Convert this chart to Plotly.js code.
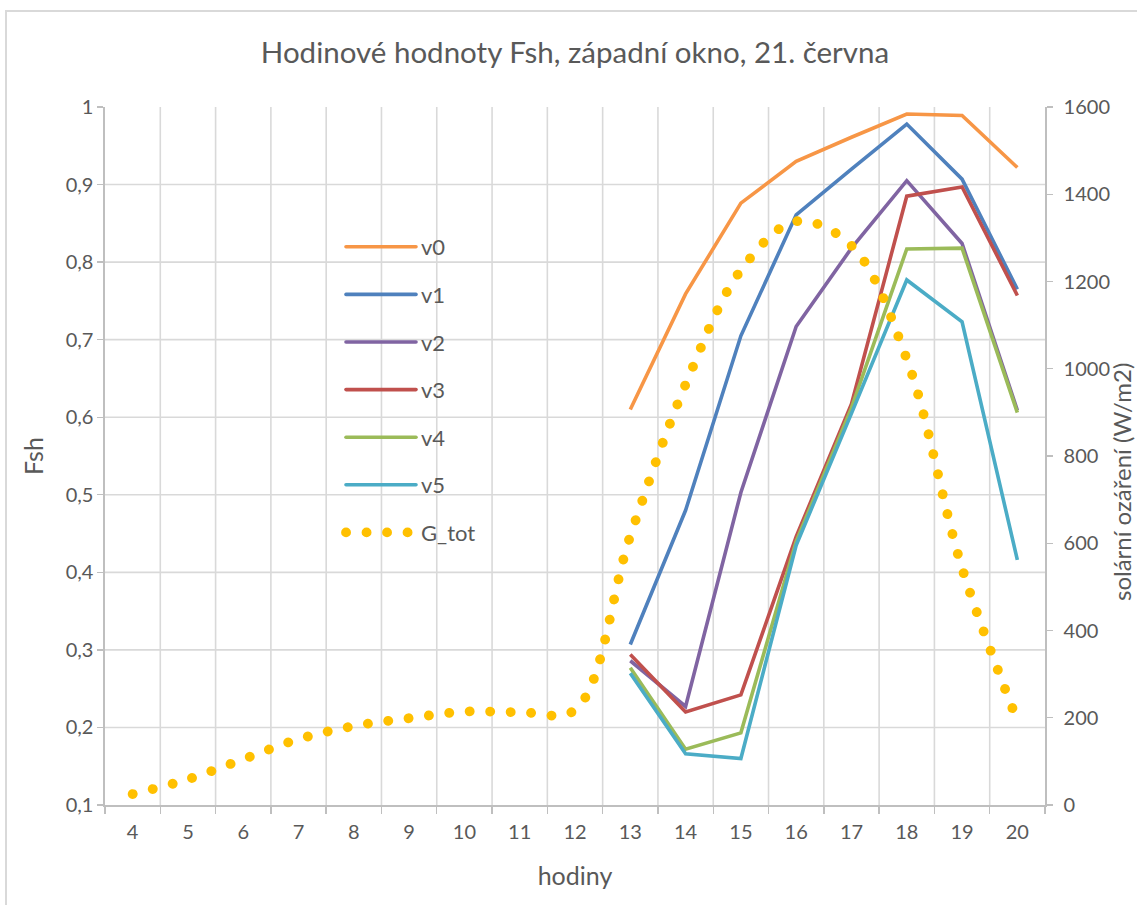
<!DOCTYPE html>
<html>
<head>
<meta charset="utf-8">
<script src="https://cdn.plot.ly/plotly-3.0.1.min.js"></script>
<style>
  html, body { margin: 0; padding: 0; background: #ffffff; }
  #chart { width: 1137px; height: 905px; }
  /* round caps turn the short dashes of the irradiance line into round dots */
  .tracegtot path.js-line, .legend path.js-line { stroke-linecap: round; }
  /* keep all grid lines the same soft weight */
  .js-plotly-plot .plotly .gridlayer .crisp { shape-rendering: auto; }
</style>
</head>
<body>
<div id="chart"></div>
<script>
// hours of the day (category axis)
const hours = [4, 5, 6, 7, 8, 9, 10, 11, 12, 13, 14, 15, 16, 17, 18, 19, 20];
// hours for which the shading factor is evaluated
const fshHours = [13, 14, 15, 16, 17, 18, 19, 20];

// hourly shading factor Fsh for the six variants
const v0 = [0.610, 0.759, 0.876, 0.930, 0.961, 0.991, 0.989, 0.922];
const v1 = [0.307, 0.480, 0.705, 0.861, 0.920, 0.978, 0.907, 0.765];
const v2 = [0.286, 0.227, 0.503, 0.717, 0.818, 0.905, 0.824, 0.609];
const v3 = [0.294, 0.220, 0.242, 0.446, 0.617, 0.885, 0.897, 0.757];
const v4 = [0.277, 0.172, 0.193, 0.440, 0.612, 0.817, 0.818, 0.606];
const v5 = [0.270, 0.166, 0.160, 0.435, 0.605, 0.777, 0.723, 0.416];

// total solar irradiance on the west window, W/m2
const gTot = [25, 59, 105, 151, 181, 199, 214, 213, 218, 617, 964, 1226, 1338, 1282, 1022, 543, 193];

const seriesNames = ['v0', 'v1', 'v2', 'v3', 'v4', 'v5'];
const seriesValues = [v0, v1, v2, v3, v4, v5];
const seriesColors = ['#F79646', '#4F81BD', '#8064A2', '#C0504D', '#9BBB59', '#4BACC6'];
const gTotName = 'G_tot';
const gTotColor = '#FFC000';

const chartTitle = 'Hodinové hodnoty Fsh, západní okno, 21. června';
const xTitle = 'hodiny';
const yTitle = 'Fsh';
const y2Title = 'solární ozáření (W/m2)';

const textColor = '#595959';
const gridColor = '#D9D9D9';
const axisColor = '#BFBFBF';

const traces = seriesNames.map((name, i) => ({
  type: 'scatter',
  mode: 'lines',
  name: name,
  legendgroup: name,
  x: fshHours,
  y: seriesValues[i],
  yaxis: 'y',
  line: { color: seriesColors[i], width: 3.6 },
  hoverinfo: 'x+y+name'
}));

traces.push({
  type: 'scatter',
  mode: 'lines',
  name: gTotName,
  legendgroup: gTotName,
  uid: 'gtot',
  x: hours,
  y: gTot,
  yaxis: 'y2',
  line: { color: gTotColor, width: 9.8, shape: 'spline', smoothing: 1, dash: '0.1px,20.4px' },
  hoverinfo: 'x+y+name'
});

const plotLeft = 105, plotRight = 1045, plotTop = 107, plotBottom = 805;
const pw = plotRight - plotLeft, ph = plotBottom - plotTop;
const px = v => (v - plotLeft) / pw;
const py = v => (plotBottom - v) / ph;

const tickFont = { size: 20, color: textColor };
const axisTitleFont = { size: 25, color: textColor };

const layout = {
  width: 1137,
  height: 905,
  margin: { l: plotLeft, r: 1137 - plotRight, t: plotTop, b: 905 - plotBottom, pad: 0 },
  paper_bgcolor: '#ffffff',
  plot_bgcolor: '#ffffff',
  separators: ', ',
  font: { family: 'Lato, "Open Sans", sans-serif', color: textColor, size: 20 },
  title: {
    text: chartTitle,
    x: 0.5, xref: 'paper', xanchor: 'center',
    y: 1 - 53 / 905, yref: 'container', yanchor: 'middle',
    font: { size: 29.5, color: textColor }
  },
  xaxis: {
    type: 'category',
    categoryorder: 'array',
    categoryarray: hours,
    range: [-0.5, hours.length - 0.5],
    tickson: 'boundaries',
    showgrid: true, gridcolor: gridColor, gridwidth: 1.6,
    showline: true, linecolor: axisColor, linewidth: 1.6,
    ticks: 'outside', ticklen: 7, tickcolor: axisColor, tickwidth: 1.4,
    ticklabelstandoff: 8,
    zeroline: false,
    tickfont: tickFont,
    title: { text: xTitle, font: axisTitleFont, standoff: 26 }
  },
  yaxis: {
    range: [0.1, 1],
    tickmode: 'linear', tick0: 0.1, dtick: 0.1,
    showgrid: true, gridcolor: gridColor, gridwidth: 1.6,
    showline: true, linecolor: axisColor, linewidth: 1.6,
    ticks: 'outside', ticklen: 6, tickcolor: axisColor, tickwidth: 1.4,
    zeroline: false,
    tickfont: tickFont,
    title: { text: yTitle, font: axisTitleFont, standoff: 14.5 }
  },
  yaxis2: {
    overlaying: 'y',
    side: 'right',
    range: [0, 1600],
    tickmode: 'linear', tick0: 0, dtick: 200,
    showgrid: false,
    showline: true, linecolor: axisColor, linewidth: 1.6,
    ticks: 'outside', ticklen: 6, tickcolor: axisColor, tickwidth: 1.4,
    ticklabelstandoff: 7,
    zeroline: false,
    tickfont: tickFont
  },
  annotations: [{
    // title of the irradiance axis, set a little below the middle of the plot
    text: y2Title,
    xref: 'paper', yref: 'paper',
    x: px(1122), y: py(482),
    xanchor: 'center', yanchor: 'middle',
    textangle: -90,
    showarrow: false,
    font: { size: 24, color: textColor }
  }],
  showlegend: true,
  legend: {
    x: px(341), xanchor: 'left',
    y: py(226), yanchor: 'top',
    bgcolor: 'rgba(0,0,0,0)',
    borderwidth: 0,
    itemwidth: 70,
    tracegroupgap: 16,
    font: { size: 22, color: textColor }
  },
  shapes: [{
    type: 'rect', xref: 'paper', yref: 'paper',
    x0: px(6), x1: px(1160), y0: py(930), y1: py(11),
    line: { color: gridColor, width: 2 },
    fillcolor: 'rgba(0,0,0,0)',
    layer: 'below'
  }]
};

Plotly.newPlot('chart', traces, layout, { staticPlot: true, displayModeBar: false });
</script>
</body>
</html>
